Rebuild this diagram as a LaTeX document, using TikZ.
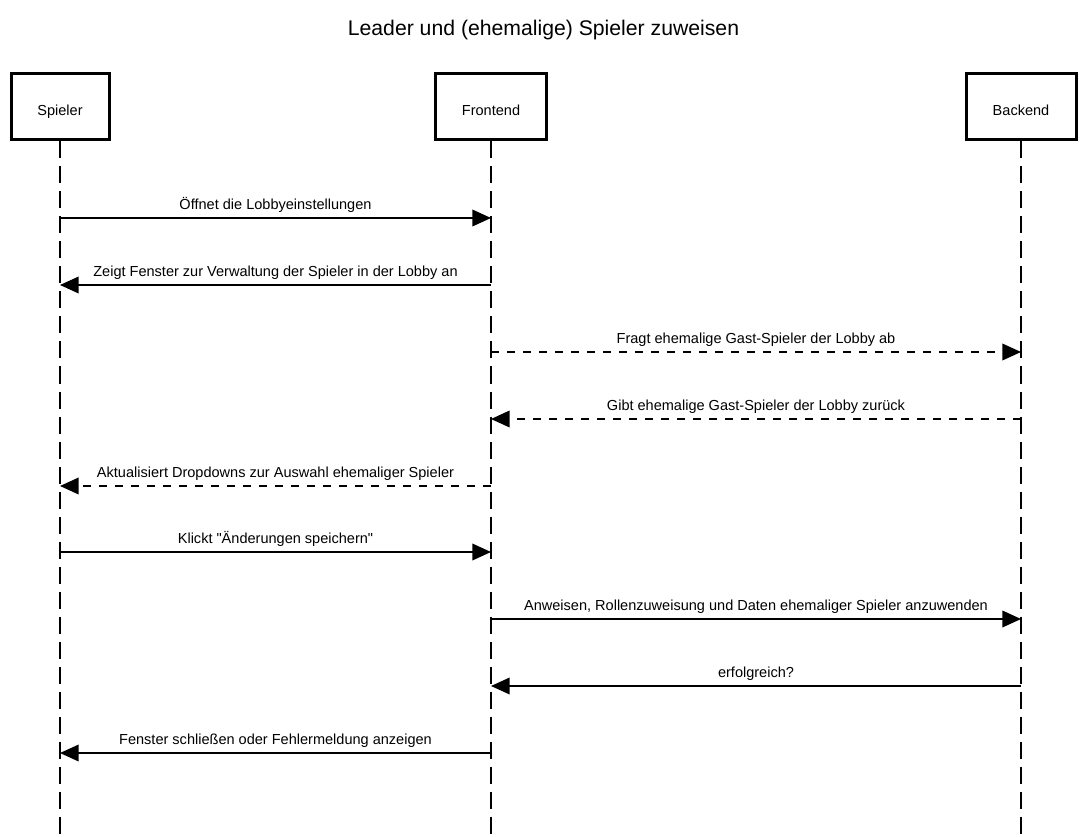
\documentclass[tikz,border=0pt]{standalone}
\usepackage{fontspec}
\setmainfont{Liberation Sans}
\usetikzlibrary{arrows.meta}
\newcommand\lowered[1]{\raisebox{-6.4pt}[0pt][0pt]{#1}}
\begin{document}
\begin{tikzpicture}[x=0.75pt,y=-0.75pt,
  actor/.style={draw,line width=2.25pt,minimum width=73.5pt,minimum height=49.5pt,inner sep=0pt,font=\fontsize{10.9}{13}\selectfont},
  lifeline/.style={line width=1.5pt,dash pattern=on 12.75pt off 6pt},
  msg/.style={line width=1.1pt,-{Triangle[length=14pt,width=12.5pt]}},
  reply/.style={msg,dash pattern=on 6pt off 6pt},
  lbl/.style={anchor=base,inner sep=0pt,font=\fontsize{10.9}{13}\selectfont}]
\useasboundingbox (0,0) rectangle (1087,837);
\node[anchor=base,inner sep=0pt,font=\fontsize{15.9}{19}\selectfont] (title) at (543.5,36) {Leader und (ehemalige) Spieler zuweisen};
\node[actor] (sp) at (60,107) {\lowered{Spieler}};
\node[actor,minimum width=83.25pt] (fe) at (491,107) {\lowered{Frontend}};
\node[actor,minimum width=82.5pt] (be) at (1021,107) {\lowered{Backend}};
\coordinate (spE) at (60,837);
\coordinate (feE) at (491,837);
\coordinate (beE) at (1021,837);
\draw[lifeline] (sp.south) -- (spE);
\draw[lifeline] (fe.south) -- (feE);
\draw[lifeline] (be.south) -- (beE);
% message points
\foreach \n/\y in {1/218,2/285,3/352,4/419,5/486,6/552,7/619,8/686,9/753}{
  \coordinate (s\n) at (60,\y);
  \coordinate (f\n) at (491,\y);
  \coordinate (b\n) at (1021,\y);
}
\draw[msg] (s1) -- node[lbl,yshift=6.5pt] (m1) {Öffnet die Lobbyeinstellungen} (f1);
\draw[msg] (f2) -- node[lbl,yshift=6.5pt] (m2) {Zeigt Fenster zur Verwaltung der Spieler in der Lobby an} (s2);
\draw[reply] (f3) -- node[lbl,yshift=6.5pt] (m3) {Fragt ehemalige Gast-Spieler der Lobby ab} (b3);
\draw[reply] (b4) -- node[lbl,yshift=6.5pt] (m4) {Gibt ehemalige Gast-Spieler der Lobby zurück} (f4);
\draw[reply] (f5) -- node[lbl,yshift=6.5pt] (m5) {Aktualisiert Dropdowns zur Auswahl ehemaliger Spieler} (s5);
\draw[msg] (s6) -- node[lbl,yshift=6.5pt] (m6) {Klickt \textquotedbl Änderungen speichern\textquotedbl} (f6);
\draw[msg] (f7) -- node[lbl,yshift=6.5pt] (m7) {Anweisen, Rollenzuweisung und Daten ehemaliger Spieler anzuwenden} (b7);
\draw[msg] (b8) -- node[lbl,yshift=6.5pt] (m8) {erfolgreich?} (f8);
\draw[msg] (f9) -- node[lbl,yshift=6.5pt] (m9) {Fenster schließen oder Fehlermeldung anzeigen} (s9);
\end{tikzpicture}
\end{document}
